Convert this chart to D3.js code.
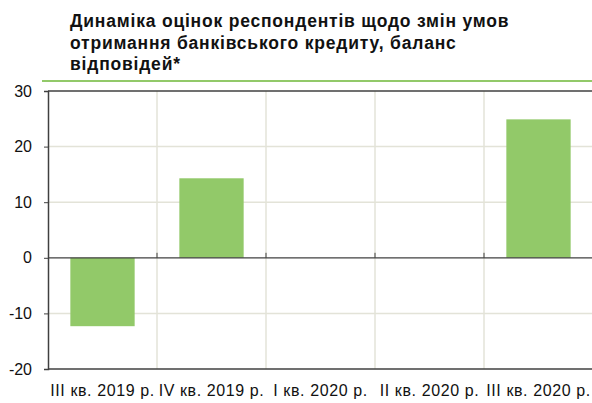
<!DOCTYPE html>
<html lang="uk">
<head>
<meta charset="UTF-8">
<title>Динаміка оцінок</title>
<script src="https://cdn.jsdelivr.net/npm/d3@7"></script>
<style>
  body { margin: 0; background: #fff; }
  svg { font-family: "Liberation Sans", Arial, sans-serif; }
</style>
</head>
<body>
<svg width="592" height="403"></svg>
<script>
// data
var titleLines = ["Динаміка оцінок респондентів щодо змін умов",
                  "отримання банківського кредиту, баланс",
                  "відповідей*"];
var quarters = ["III кв. 2019 р.", "IV кв. 2019 р.", "I кв. 2020 р.", "II кв. 2020 р.", "III кв. 2020 р."];
var balance = [-12.3, 14.3, null, null, 24.9];
var yTicks = [-20, -10, 0, 10, 20, 30];

var svg = d3.select("svg");
var plotLeft = 48, plotRight = 593, plotTop = 91, plotBottom = 369;

// title
svg.append("g").selectAll("text")
    .data(titleLines)
    .join("text")
    .attr("x", 70)
    .attr("y", function(d, i){ return 27 + i * 21.5; })
    .attr("font-size", 17.5)
    .attr("font-weight", "bold")
    .attr("letter-spacing", 0.8)
    .attr("fill", "#111")
    .text(function(d){ return d; });

svg.append("line")
    .attr("x1", 42).attr("x2", 592)
    .attr("y1", 81).attr("y2", 81)
    .attr("stroke", "#92c969").attr("stroke-width", 2);

var x = d3.scaleBand()
    .domain(quarters)
    .range([plotLeft, plotRight])
    .paddingInner(0.41)
    .paddingOuter(0.205);

var y = d3.scaleLinear()
    .domain([-20, 30])
    .range([plotBottom, plotTop]);

var grid = "#e3e3d8";

// horizontal grid
svg.append("g").selectAll("line")
    .data(yTicks.filter(function(d){ return d != 0 && d != 30 && d != -20; }))
    .join("line")
    .attr("x1", plotLeft).attr("x2", plotRight)
    .attr("y1", function(d){ return y(d); }).attr("y2", function(d){ return y(d); })
    .attr("stroke", grid).attr("stroke-width", 1.5);

// vertical grid at band boundaries
var bounds = quarters.slice(1).map(function(q){ return x(q) - x.step() * x.paddingInner() / 2; });
svg.append("g").selectAll("line")
    .data(bounds)
    .join("line")
    .attr("x1", function(d){ return d; }).attr("x2", function(d){ return d; })
    .attr("y1", plotTop).attr("y2", plotBottom)
    .attr("stroke", grid).attr("stroke-width", 1.5);

// bars
svg.append("g").selectAll("rect")
    .data(quarters.map(function(q, i){ return {q: q, v: balance[i]}; }).filter(function(d){ return d.v != null; }))
    .join("rect")
    .attr("x", function(d){ return x(d.q); })
    .attr("width", x.bandwidth())
    .attr("y", function(d){ return y(Math.max(0, d.v)); })
    .attr("height", function(d){ return Math.abs(y(d.v) - y(0)); })
    .attr("fill", "#92c969");

// frame and axes
var axisCol = "#404040";
[30, -20].forEach(function(v){
  svg.append("line").attr("x1", plotLeft).attr("x2", plotRight).attr("y1", y(v)).attr("y2", y(v))
      .attr("stroke", axisCol).attr("stroke-width", 1.5);
});
svg.append("line").attr("x1", plotLeft).attr("x2", plotRight).attr("y1", y(0)).attr("y2", y(0))
    .attr("stroke", axisCol).attr("stroke-width", 1.2);
// small ticks above zero line
svg.append("g").selectAll("line")
    .data(bounds)
    .join("line")
    .attr("x1", function(d){ return d; }).attr("x2", function(d){ return d; })
    .attr("y1", y(0) - 5).attr("y2", y(0))
    .attr("stroke", axisCol).attr("stroke-width", 1);

var yAxis = d3.axisLeft(y).tickValues(yTicks).tickSize(4).tickPadding(12)
    .tickFormat(function(d){ return String(d); });
var ya = svg.append("g").attr("transform", "translate(" + plotLeft + ",0)").call(yAxis);
ya.select(".domain").attr("stroke", axisCol).attr("stroke-width", 1.5);
ya.selectAll(".tick line").attr("stroke", axisCol);
ya.selectAll(".tick text").attr("font-size", 16).attr("fill", "#111")
    .attr("font-family", "Liberation Sans, Arial, sans-serif");

// x labels
svg.append("g").selectAll("text")
    .data(quarters)
    .join("text")
    .attr("x", function(d){ return x(d) + x.bandwidth() / 2; })
    .attr("y", 396)
    .attr("text-anchor", "middle")
    .attr("font-size", 16)
    .attr("letter-spacing", 0.6)
    .attr("fill", "#111")
    .text(function(d){ return d; });
</script>
</body>
</html>
